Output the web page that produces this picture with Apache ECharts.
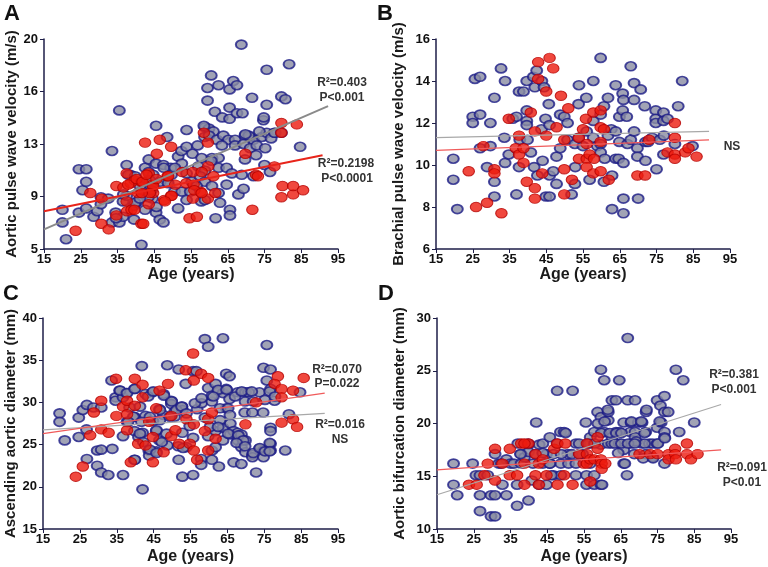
<!DOCTYPE html>
<html><head><meta charset="utf-8">
<script src="https://cdn.jsdelivr.net/npm/echarts@6/dist/echarts.min.js"></script>
<style>html,body{margin:0;padding:0;background:#fff}#c{width:768px;height:567px}</style>
</head><body><div id="c"></div>
<script>
// ---------- DATA ----------
const ageTicks = [15,25,35,45,55,65,75,85,95];
const aYTicks = [5,9,13,16,20];
const bYTicks = [6,8,10,12,14,16];
const cYTicks = [15,20,25,30,35,40];
const dYTicks = [10,15,20,25,30];

const aBlue = [[20,7.8],[20,6.9],[21,5.7],[24.5,10.7],[26.5,10.7],[25.5,9.2],[26.5,9.8],[24.5,7.6],[26.5,7.9],[28.5,7.3],[29.5,7.7],[30.5,8.2],[30.5,8.7],[32.5,8.6],[33.5,12],[35.5,14.9],[33.5,6.9],[34.5,7.6],[35.5,6.9],[36.5,7.3],[36.5,8.4],[37.5,11],[37.5,8.8],[38.5,10.3],[39.5,7.1],[39.5,8.1],[40.5,8.4],[41.5,5.3],[41.5,9.2],[42.5,10.8],[42.5,9.8],[43.5,11.4],[43.5,10.5],[44.5,8.6],[45.5,13.8],[45.5,11.1],[45.5,7.6],[46.5,7.1],[47.5,6.9],[47.5,11],[48.5,13],[48.5,9.8],[49.5,10.8],[50.5,9.1],[51.5,7.9],[51.5,11.6],[52.5,9.1],[52.5,11.1],
[37.9,10.3],[39.8,10.2],[41.1,9.5],[44.7,10.3],[46.6,9.8],[47.6,10.8],[48.8,9.7],[49.7,10.3],[50.6,10.8],[52.4,12],[43.4,8.7],[45.6,8],[39.8,8.3],[41.1,8.6],[42.5,7.8],[43.8,9.9],[44.3,9.2],[36.6,8.9],[34.6,7.2],
[53.8,13.5],[53.8,12.3],[55.4,11.8],[56.8,12.4],[58.8,13.7],[59.9,13.6],[61.1,13.4],[58.7,13],[59.9,13.1],[62,12.8],[63.8,13.1],[65.2,12.8],[67,12.8],[69.7,13.1],[71.1,13],[72,12.8],[74.3,13],[75.6,13.3],[76.8,12.9],[77.9,13.3],[63.4,12.4],[67,12.4],[69.3,12.5],[71.1,12.2],[72.9,12.4],[75.2,12.2],[57.9,11.5],[60.7,11.5],[62.5,11.5],[57,10.9],[58.8,10.6],[62.5,10.8],[64.7,10.8],[66.1,10.4],[69.7,11.4],[68.8,10.3],[72,10.2],[75,11],[76.5,10.5],[53.8,10.4],[55.2,9.8],[57.5,10.2],[58.8,9.8],[60.7,9.5],[62.5,9],[64.7,9.6],[67.9,8.9],[69.3,9.3],[54.8,9.1],[53.8,8.5],[57.8,8.4],[62.9,8.3],[65.6,7.8],[65.6,7.4],[61.7,7.2],[58.8,8.5],
[59.5,16.5],[59.5,15.6],[60.5,17.4],[61.5,14.8],[62.5,16.7],[63.5,14.4],[65.5,16.4],[65.5,15.1],[65.5,14.3],[66.5,17],[67.5,16.7],[67.5,14.7],[69,14.7],[68.7,19.6],[71.6,15.8],[74.7,14.2],[74.8,14.4],[75.6,17.8],[75.6,15.3],[79.6,15.9],[80.7,15.7],[81.7,18.2],[84.7,12.3],[73.6,13.4],[77.7,13.3],[79.6,13.3],[72.7,11.7],[56.5,9.5],[58.5,13.8],[60.5,11.3],[70.7,13.1],[69.8,13.2]];
const aRed = [[23.6,6.3],[27.6,9],[30.6,6.8],[32.6,6.4],[34.7,9.5],[34.7,7.4],[36.6,9.4],[37.5,10.4],[37.5,8.4],[37.6,7.7],[38.6,9.7],[38.8,7.8],[39.6,7.8],[39.7,9.9],[40.6,9],[41.5,9.8],[41.5,6.8],[42.5,12.6],[43.5,8.2],[43.5,10.4],[44.5,9.6],[44.7,9],[45.7,11.8],[46.5,12.8],[47.7,8.5],[48.6,10.2],[49.6,8.8],[49.6,12.3],[50.7,9.6],[52.6,10.5],[53.7,9.7],[54.6,7.2],[55.5,10.5],[55.5,8.6],[55.7,9.6],[56.6,7.3],[57.6,9.1],[58.5,13.3],[59.6,8.6],[59.6,12.6],[59.7,10.9],[61.6,9],[69.8,11.8],[71.7,7.8],[72.7,10.3],[77.7,10.9],[79.6,14],[79.6,13.3],[79.6,8.7],[79.9,9.5],[82.8,8.9],[82.8,9.5],[83.8,13.9],[85.5,9.2],
[37.9,9.6],[40.2,10],[41.8,9.8],[42.9,10.3],[44.7,9.5],[45.6,10],[48.8,10.2],[49.7,8.8],[47.9,8.4],[43.8,9],[41.6,9],[30.7,8.6],[42,6.8],[55.9,9.2],[57.9,9],[57.9,10.5],[61.1,10.2],[73.2,10.2]];
const aGrayFit = [[15,6.4],[92.3,15.2]];
const aRedFit = [[15,7.7],[90.8,11.7]];

const bBlue = [[19.7,10.3],[19.7,9.3],[20.8,7.9],[25.6,14.1],[27,14.2],[25,12.3],[25,12],[27,12.4],[27,10.8],[29.8,12],[29.8,10.9],[28.9,9.9],[30.9,13.2],[30.9,9.2],[30.9,8.5],[32.7,14.6],[33.8,14],[33.6,11.3],[33.8,10.1],[34.8,10.5],[35.9,12.2],[36.9,12.3],[36.9,8.6],[37.6,13.5],[38.8,13.5],[37.6,9.9],[37.8,11.2],[39.7,14],[39.7,12.6],[39.7,12.1],[39.7,11.9],[39.9,11.2],[40.8,10.6],[41.5,14.2],[41.9,13.7],[42.4,14.5],[41.7,9.9],[42.6,9.5],[43.7,11.7],[43.8,14],[44.4,13.7],[44,10.2],[44.8,12.2],[45.7,12.9],[45.9,11.9],[44.9,8.5],[45.9,8.5],[45.9,9.5],[46.9,9.7],[47.8,10.4],[47.8,9.1],[48.8,12.4],[48.8,10.8],[49.9,12.3],[50.8,12],[50.8,11.2],[51.9,8.6],[52.8,9.1],[52.9,9.9],[52.8,11],[53.8,11.3],[53.8,12.9],[53.9,13.8],[55,10.9],[55.9,13.2],[56,11.6],[56.8,9.3],[57.8,14],[57.8,12.1],[57.8,11.3],[58.9,10.9],[59.8,15.1],[59.8,12.4],[59.8,11],[59.8,10.6],[60.7,12.8],[60.7,9.2],[60.9,10.3],[61.8,13.2],[61.8,11.4],[62.7,11.7],[62.9,7.9],[62.9,9.5],[63.9,13.8],[63.9,11.6],[63.9,10.3],[64.7,10.3],[64.9,12.3],[64.9,11.1],[65.8,12.6],[65.8,13.4],[66,13.1],[66,10.1],[66,8.4],[66,7.7],[66.9,12.3],[67.1,11],[68,14.7],[68,11.2],[68.9,13.9],[68.9,13.1],[68.9,11.6],[69.8,10.8],[69.8,10.4],[70,8.4],[70.7,13.6],[71.8,12.8],[72,11.1],[72.7,11.1],[72,10.2],[73.8,11.3],[74.8,12.6],[74.8,12.2],[74.8,12],[75,9.8],[75.9,11.2],[76.9,12.5],[76.9,12.1],[77,11.4],[76.9,10.5],[78,12.2],[80,11],[80.9,12.8],[82,14],[84.8,10.9]];
const bRed = [[23.9,9.7],[25.9,8],[27.9,10.9],[28.9,8.2],[30.9,9.8],[30.9,9.6],[32.8,7.7],[34.8,12.2],[36.7,10.8],[37.6,11.4],[37.6,10.5],[38.8,10.1],[38.8,10.8],[39.7,9.2],[40.8,12.5],[41.9,11.6],[41.9,8.9],[41.9,8.4],[42.8,14.9],[42.8,14.1],[43.9,9.6],[45,13.5],[45,11.4],[45.9,15.1],[46.9,14.6],[47.8,11.8],[49,13.3],[49.9,11.2],[49.9,9.8],[49.9,8.6],[51,12.7],[52,9.3],[53.9,11.3],[53.9,10.3],[55,11.7],[55.8,12.2],[56,11],[56,10.3],[56,9.9],[56.8,10.5],[57.8,12.5],[57.8,9.6],[58,10.3],[59.8,12.6],[59.8,11.8],[59.8,11.1],[59.8,9.7],[60.7,11.7],[62,9.3],[69.8,9.5],[71.9,9.5],[73,11.2],[78,10.6],[80,12],[80,11.3],[80,10.5],[80,10.3],[82.8,10.6],[83.7,10.8],[85.9,10.4]];
const bGrayFit = [[15,11.3],[89.3,11.6]];
const bRedFit = [[15,10.7],[89.3,11.2]];

const cBlue = [[19.5,28.7],[19.5,27.7],[20.9,25.5],[24.7,28.2],[24.7,25.9],[25.8,29.1],[26.9,29.7],[26.8,26.8],[26.9,23.3],[28.7,29.4],[29.7,22.5],[29.7,24.3],[30.8,29.4],[30.8,24.4],[30.8,21.7],[32.7,21.4],[33.6,32.6],[33.8,24.5],[34.7,30.6],[34.7,30.2],[35.8,31.4],[36.7,30.6],[36.7,26],[36.7,21.4],[37.6,31.1],[37.8,27.7],[38.5,29.4],[39.8,28.3],[39.8,31.6],[39.8,23.2],[39.8,26.6],[40.9,25.9],[41.8,34.3],[42,26.4],[42,19.7],[42.8,31],[42.8,28.4],[43.7,24.3],[43.8,23.7],[44.7,31.2],[44.8,27.8],[45.7,26.6],[45.7,24.2],[46.6,29.2],[46.6,25.5],[47.7,31],[47.7,28.5],[48.7,34.4],[48.7,24.9],[49.8,30.2],[49.8,29.8],[50.7,28.9],[50.7,28.3],[51.8,33.9],[51.8,23.2],[52.7,29.5],[52.8,29.1],[52.8,26.4],[52.8,21.2],[53.7,32.2],[53.9,24.7],[54.8,27.2],[55.7,33.7],[55.7,25.8],[55.7,21.4],[56.6,33.7],[56.8,29.2],[57.9,23.3],[57.9,22.6],[58,29.9],[58.9,37.5],[58.9,28.2],[59.8,26],[59.8,36.6],[59.8,31.7],[60.8,30.1],[60.8,30.8],[60.8,24.3],[60.8,23.2],[61.8,32.2],[61.8,26.6],[61.8,24.7],[62.7,31.4],[62.7,22.4],[63.8,37.6],[63.8,31.1],[63.8,27],[63.8,25.5],[64.7,33.4],[65.6,33.1],[64.7,31.6],[64.7,29.3],[65.6,30.4],[65.8,27.5],[65.8,26.2],[66.7,26.6],[66.7,22.9],[67.8,26.4],[67.8,25.5],[67.8,31.2],[68.8,26.2],[68.8,24.7],[68.8,22.7],[69.7,28.8],[69.9,31.2],[69.9,25.5],[69.9,24.1],[70.8,31.2],[71.8,28.8],[71.8,23.8],[71.8,23.5],[72.8,21.7],[73.7,31.2],[73.7,24.5],[74.8,34.1],[74.7,28.8],[74.8,24.3],[74.8,23.5],[75.7,36.8],[75.7,32.6],[76.7,33.9],[76.7,31.6],[76.7,27],[76.7,26.6],[76.7,25.1],[76.7,24.3],[77.8,30.2],[81.7,28.6],[80.7,24.3],[84.7,31.2],
[62.5,31.5],[64.8,31.5],[67.1,30.7],[68.9,31.3],[71.6,31.3],[69.8,30.1],[72,30.1],[75.2,30.3],[76.5,31.3],[77.9,30.7],[56.2,29.9],[58,30.5],[61.2,30.7],[63,29.3],[65.2,29.3],[65.7,28.5],[63,27.9],[60.3,27.1],[62.5,27.1],[65.2,26.3],[68,26.1],[69.3,25.5],[67.5,25.2],[69.8,24.8],[72,24],[73.8,24.6],[75.2,24.2],[76.5,25.2],[76.5,24.2],
[35.9,31.4],[37.8,31.1],[39.9,31.6],[41.3,29.5],[43.5,30.7],[44.9,31.3],[46.7,29.1],[47.8,30.8],[49.9,30.1],[51.2,29.1],[52.6,29.5],[53.9,28.7],[44,28.3],[46.7,27.9],[49.4,28.3],[39.5,28.3],[38.1,27.7],[41.7,27.7],[45.8,26.7],[48.5,26.3],[41.3,26.3],[42.2,25.3],[44,24.4],[45.8,24],[47.2,25.3],[51.7,24.8],[53,24.6],[39.9,23.2]];
const cRed = [[23.9,21.2],[25.8,22.4],[27.8,26.1],[28.8,28.8],[30.8,30.2],[30.8,26.8],[32.8,26.4],[34.8,32.8],[34.9,28.4],[36.7,29.5],[37.8,30.2],[37.8,26.7],[37.8,28.6],[38.8,22.9],[39.9,32.8],[39.9,29.6],[40.8,25.1],[42,32.1],[42,30.6],[42.8,24.9],[43.8,27.7],[44.8,22.9],[44.8,25.9],[45.7,29.3],[46.6,31.4],[47.7,24.1],[48.9,32.2],[49.8,28.4],[49.8,26],[50.9,26.7],[51.9,25.1],[53.7,33.8],[53.9,28],[54.8,25.1],[55.7,35.8],[55.9,32.6],[55.9,27.4],[55.9,24.3],[56.8,23.2],[57.9,33.4],[58.9,26.6],[59.8,32.9],[59.8,28],[59.8,24.3],[60.8,28.8],[61.8,25.7],[69.9,27.4],[72.8,30],[78.7,33.1],[77.8,32.2],[79.7,31.6],[79.7,30.6],[79.7,27.6],[82.8,31.4],[82.8,28],[83.9,27.1],[85.7,32.9]];
const cGrayFit = [[15,26.75],[91.4,28.7]];
const cRedFit = [[15,26.3],[91.4,31.1]];

const dBlue = [[19.5,16.2],[19.5,14.2],[20.5,13.2],[24.7,16.2],[25.6,15.1],[26.7,15.1],[26.7,13.2],[26.7,11.7],[28.8,15.1],[29.7,13.2],[29.7,11.2],[30.8,11.2],[30.8,17.1],[30.8,13.2],[31.8,16.2],[32.8,14.2],[33.9,13.2],[33.9,16.6],[35,16.2],[35.9,16.2],[36.8,14.2],[36.8,12.2],[37,18.1],[37.9,17.1],[37.9,16.2],[38.8,16.8],[39.9,12.7],[39.9,18],[39.9,17.3],[40.8,14.6],[41.8,17.1],[42,20.1],[42.8,18],[42.8,14.2],[43.8,16.2],[43.8,18.1],[44.8,17.1],[44.8,14.2],[45.7,18.7],[45.7,16.2],[46.7,17.1],[46.7,15.1],[47.7,23.1],[47.7,18.1],[48.6,19.2],[48.7,16.2],[48.7,15.1],[49.6,19.2],[50.6,17.1],[50.8,16.2],[51.9,23.1],[51.7,17.1],[52.8,16.2],[52.8,15.1],[52.8,18.1],[53.7,18.1],[54.6,17.1],[55.5,20.1],[55.7,15.1],[55.7,14.2],[56.7,16.2],[56.7,18.1],[56.7,18.7],[57.8,19.2],[57.8,15.1],[57.8,14.2],[58.7,21.1],[59.6,25.1],[59.6,18],[59.6,14.2],[59.6,20.6],[60.5,24.1],[60.5,19.2],[61.6,20.3],[61.6,21.1],[61.6,18.1],[62.6,22.2],[62.6,18.7],[62.6,18.1],[63.7,22.2],[63.7,19.2],[64.6,24.1],[64.6,19.2],[64.6,18.1],[65.8,20.1],[65.8,17.5],[65.8,16.2],[66.9,28.1],[66.9,22.2],[66.7,15.1],[67.6,19.2],[67.8,18.1],[67.8,20.1],[68.7,17.1],[68.9,22.2],[68.9,19.2],[68.9,18.7],[69.8,20.1],[70.7,18.1],[70.8,20.1],[71.8,17.1],[71.8,19.2],[71.9,21.1],[72.8,18.1],[73.7,18.1],[73.7,16.8],[74.9,22.2],[74.9,19.6],[74.9,18.1],[75.8,21.7],[76,20.1],[76.9,22.6],[76.9,21.1],[76.9,19.2],[76.9,18.7],[76.9,16.2],[77.9,21.1],[80,25.1],[80.9,19.2],[82,24.1],[85,20.1],
[59.7,19.1],[62,19.1],[63.8,19.1],[65.2,19.1],[69.2,18.3],[71.5,18.1],[75.1,18.1],[77,18.6],[71.5,19.1],[56.1,18.1],[57.9,18.1],[63.4,18.1],[65.2,18.1],[67,18.1],[68.8,18.1],[58.8,20],[60.6,20.2],[67.9,20.2],[70.6,20.2],[75.6,20.2],[72,21.3],[61.5,21.3],[64.3,17.2],[71.1,16.7],[73.8,16.7],[66.1,16.2],[59.9,14.2],
[37.7,17.1],[39.8,18.1],[43.8,17.2],[50,19.1],[48.8,17.1],[53.8,17.1],[46.1,15.1],[32.5,16.2],[41.1,16.2],[45.7,16.2]];
const dRed = [[23.7,14.2],[25.8,14.2],[27.9,15.1],[28.8,16.2],[30.8,17.6],[30.8,14.6],[32.8,16.2],[34.8,17.6],[34.8,15.1],[36.8,15.1],[37.9,18.1],[38.8,16.2],[38.8,14.2],[39.9,18.1],[38.8,18.1],[41.8,17.1],[41.8,15.1],[42.7,16.2],[42.7,14.2],[43.8,16.6],[44.8,15.1],[46.9,17.6],[47.7,18.1],[47.8,14.2],[49.6,15.1],[49.9,18.1],[51.9,14.2],[53.7,17.1],[54.9,16.2],[55.8,18.1],[55.8,17.1],[55.8,16.2],[56.7,16.6],[56.7,14.5],[57.8,16.6],[58.7,18.7],[58.7,17.6],[59.6,16.6],[59.8,16.2],[59.8,15.7],[60.8,16.2],[70.1,17.1],[73,17.1],[75,17.1],[78,17.1],[78,16.6],[79.8,17.6],[79.8,17.1],[80,16.6],[83,18.1],[83,17.1],[84.1,16.6],[85.9,17.1]];
const dGrayFit = [[15,13.25],[92.3,21.8]];
const dRedFit = [[15,15.6],[92.3,17.5]];

const yTitles = ['Aortic pulse wave velocity (m/s)','Brachial pulse wave velocity (m/s)','Ascending aortic diameter (mm)','Aortic bifurcation diameter (mm)'];
const xTitle = 'Age (years)';
const panelLetters = ['A','B','C','D'];

// ---------- CHART ----------
const FF = '"Liberation Sans", Arial, sans-serif';
const AX = '#1e1e48';
const grids = [
  {left:44, top:39, width:294, height:210},
  {left:436, top:39, width:294, height:210},
  {left:43, top:318, width:295, height:211},
  {left:437, top:318, width:294, height:211}
];
const yCfg = [
  {ticks:aYTicks, nameGap:24},
  {ticks:bYTicks, nameGap:30},
  {ticks:cYTicks, nameGap:24},
  {ticks:dYTicks, nameGap:30}
];
const xAxes = grids.map((g,i)=>({
  type:'value', gridIndex:i, min:ageTicks[0], max:ageTicks[ageTicks.length-1], interval:ageTicks[1]-ageTicks[0],
  name:xTitle, nameLocation:'middle', nameGap: i<2?17:20,
  nameTextStyle:{fontSize:16,fontWeight:'bold',color:'#1a1a1a',fontFamily:FF},
  axisLine:{show:true,onZero:false,lineStyle:{color:AX,width:1.5}},
  axisTick:{show:true,length:4,lineStyle:{color:AX,width:1}},
  axisLabel:{fontSize:13,fontWeight:'bold',color:'#111',fontFamily:FF,margin:4},
  splitLine:{show:false}
}));
const yAxes = yCfg.map((c,i)=>{
  const t=c.ticks; const lo=t[0], hi=t[t.length-1];
  return {
    type:'value', gridIndex:i, min:lo, max:hi, interval:(hi-lo)/(t.length-1),
    name:yTitles[i], nameLocation:'middle', nameGap:c.nameGap, nameRotate:90,
    nameTextStyle:{fontSize:15,fontWeight:'bold',color:'#1a1a1a',fontFamily:FF},
    axisLine:{show:true,onZero:false,lineStyle:{color:AX,width:1.5}},
    axisTick:{show:true,length:4,lineStyle:{color:AX,width:1}},
    axisLabel:{fontSize:13,fontWeight:'bold',color:'#111',fontFamily:FF,margin:6,
      formatter:(v)=>String(Math.round(v))},
    splitLine:{show:false}
  };
});
const blueStyle = {color:'#8a8ca2', borderColor:'#1c1c86', borderWidth:1.8};
const redStyle = {color:'#ec1a0e', borderColor:'#b40000', borderWidth:1};
const sets = [[aBlue,aRed,aGrayFit,aRedFit],[bBlue,bRed,bGrayFit,bRedFit],[cBlue,cRed,cGrayFit,cRedFit],[dBlue,dRed,dGrayFit,dRedFit]];
const series = [];
sets.forEach((s,i)=>{
  const thick = i===0 ? 2 : 1.2;
  series.push({type:'scatter', xAxisIndex:i, yAxisIndex:i, data:s[0], symbol:'circle', symbolSize:[11,9], itemStyle:blueStyle, z:2, silent:true});
  series.push({type:'scatter', xAxisIndex:i, yAxisIndex:i, data:s[1], symbol:'circle', symbolSize:[11.5,9.5], itemStyle:redStyle, z:3, silent:true});
  series.push({type:'line', xAxisIndex:i, yAxisIndex:i, data:s[2], symbol:'none', lineStyle:{color:i===0?'#8a8a8a':'#a8a8a8', width:thick}, z:4, silent:true});
  series.push({type:'line', xAxisIndex:i, yAxisIndex:i, data:s[3], symbol:'none', lineStyle:{color:i===0?'#e8241a':'#f05a5a', width:thick}, z:4, silent:true});
});
const annFont = 'bold 12px ' + FF;
const ann = [
  ['R²=0.403',342,83],['P<0.001',342,98],['R²=0.2198',346,164],['P<0.0001',347,179],
  ['NS',732,147],
  ['R²=0.070',337,370],['P=0.022',337,384],['R²=0.016',340,425],['NS',340,440],
  ['R²=0.381',734,375],['P<0.001',734,390],['R²=0.091',742,468],['P<0.01',742,483]
];
const letterPos = [[4,3],[377,3],[3,283],[378,283]];
const graphic = [];
panelLetters.forEach((l,i)=>graphic.push({type:'text', left:letterPos[i][0], top:letterPos[i][1], style:{text:l, font:'bold 22px '+FF, fill:'#111'}}));
ann.forEach(a=>graphic.push({type:'text', x:a[1], y:a[2], style:{text:a[0], font:annFont, fill:'#333', textAlign:'center', textVerticalAlign:'middle'}}));

const chart = echarts.init(document.getElementById('c'), null, {renderer:'canvas'});
chart.setOption({
  animation:false, backgroundColor:'#fff',
  grid:grids, xAxis:xAxes, yAxis:yAxes, series:series, graphic:graphic
});
</script></body></html>
